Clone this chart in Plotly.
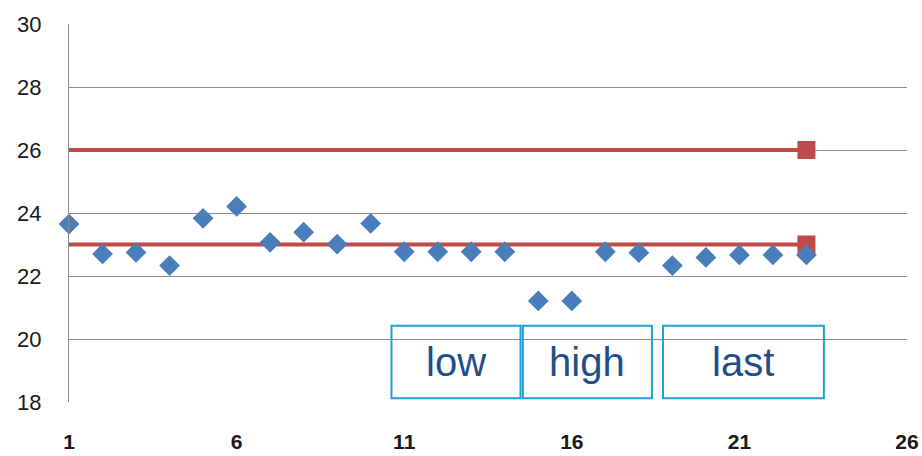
import plotly.graph_objects as go

# Measurements per sample
samples = list(range(1, 24))
values = [23.65, 22.70, 22.75, 22.33, 23.83, 24.21, 23.07, 23.39, 23.01, 23.67,
          22.77, 22.77, 22.77, 22.77, 21.21, 21.21, 22.77, 22.74, 22.33, 22.59,
          22.67, 22.67, 22.67]

# Reference limits
upper_limit = 26
lower_limit = 23

# Phase labels with their sample spans (start, end)
phase_names = ["low", "high", "last"]
phase_spans = [(10.62, 14.47), (14.54, 18.39), (18.72, 23.52)]
phase_band = (18.12, 20.42)

x_ticks = [1, 6, 11, 16, 21, 26]
y_ticks = [18, 20, 22, 24, 26, 28, 30]

RED = "#BE4B48"
BLUE = "#4A7EBB"

fig = go.Figure()

for limit in (upper_limit, lower_limit):
    fig.add_trace(go.Scatter(
        x=samples, y=[limit] * len(samples), mode="lines",
        line=dict(color=RED, width=4),
        showlegend=False, hoverinfo="skip",
    ))
    fig.add_trace(go.Scatter(
        x=[samples[-1]], y=[limit], mode="markers",
        marker=dict(symbol="square", size=18, color=RED, line=dict(width=0), opacity=1),
        cliponaxis=False, showlegend=False, hoverinfo="skip",
    ))

fig.add_trace(go.Scatter(
    x=samples, y=values, mode="markers",
    marker=dict(symbol="diamond", size=16, color=BLUE, line=dict(width=0)),
    cliponaxis=False, showlegend=False,
))

for name, (x0, x1) in zip(phase_names, phase_spans):
    fig.add_shape(type="rect", xref="x", yref="y",
                  x0=x0, x1=x1, y0=phase_band[0], y1=phase_band[1],
                  line=dict(color="#1E9FD5", width=2), fillcolor="rgba(0,0,0,0)")
    fig.add_annotation(x=(x0 + x1) / 2, y=sum(phase_band) / 2, text=name,
                       showarrow=False, xref="x", yref="y",
                       font=dict(family="Liberation Sans, Arial", size=40, color="#1F4E8C"))

fig.update_layout(
    width=922, height=456,
    margin=dict(l=69, r=15, t=24, b=54, autoexpand=False),
    paper_bgcolor="white", plot_bgcolor="white",
    xaxis=dict(range=[1, 26], tickvals=x_ticks, showgrid=False, zeroline=False,
               showline=False, ticks="", ticklabelstandoff=25, automargin=False,
               tickfont=dict(family="Liberation Sans, Arial", size=21, color="#1a1a1a", weight="bold")),
    yaxis=dict(range=[18, 30], tickvals=y_ticks, showgrid=True, gridcolor="#8c8c8c",
               gridwidth=1, zeroline=False, showline=True, linecolor="#8c8c8c", linewidth=1,
               ticks="", ticklabelstandoff=22, automargin=False,
               tickfont=dict(family="Liberation Sans, Arial", size=22, color="#1a1a1a")),
)

fig.write_html("out.html")
